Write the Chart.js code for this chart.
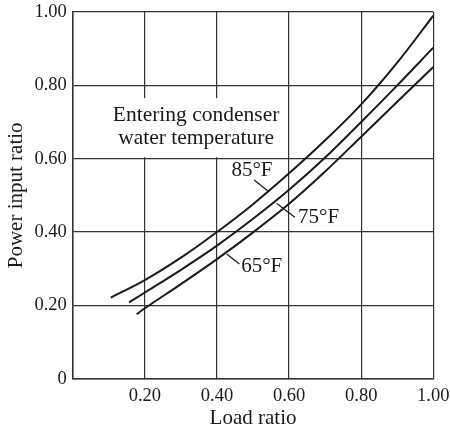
<!DOCTYPE html>
<html>
<head>
<meta charset="utf-8">
<script src="https://cdn.jsdelivr.net/npm/chart.js@4"></script>
<style>
  html, body { margin: 0; padding: 0; background: #fff; }
  #wrap { width: 450px; height: 428px; position: relative; }
</style>
</head>
<body>
<div id="wrap"><canvas id="c"></canvas></div>
<script>
// Werte
var load85 = [0.105, 0.2, 0.3, 0.4, 0.5, 0.6, 0.7, 0.8, 0.9, 1.0];
var power85 = [0.221, 0.269, 0.33, 0.40, 0.476, 0.56, 0.65, 0.748, 0.862, 0.99];
var load75 = [0.156, 0.2, 0.3, 0.4, 0.5, 0.6, 0.7, 0.8, 0.9, 1.0];
var power75 = [0.208, 0.235, 0.297, 0.363, 0.436, 0.515, 0.603, 0.70, 0.80, 0.903];
var load65 = [0.177, 0.2, 0.3, 0.4, 0.5, 0.6, 0.7, 0.8, 0.9, 1.0];
var power65 = [0.176, 0.192, 0.258, 0.326, 0.399, 0.477, 0.565, 0.66, 0.755, 0.85];
var seriesLabels = ['85°F', '75°F', '65°F'];
var noteLines = ['Entering condenser', 'water temperature'];

var FONT = "'Liberation Serif', 'Times New Roman', serif";
var INK = '#1a1a1a';
var GRID = '#333';

function pts(xs, ys) { return xs.map(function (x, i) { return { x: x, y: ys[i] }; }); }
function line(label, xs, ys) {
  return {
    label: label, data: pts(xs, ys), borderColor: INK, borderWidth: 2,
    pointRadius: 0, cubicInterpolationMode: 'monotone', fill: false
  };
}

// Beschriftungen (Datenkoordinaten): Text + Hinweisstrich
var labelPos = [
  { x: 0.497, y: 0.569, lx: [0.503, 0.544], ly: [0.542, 0.510] },
  { x: 0.682, y: 0.441, lx: [0.566, 0.616], ly: [0.478, 0.440] },
  { x: 0.524, y: 0.305, lx: [0.427, 0.462], ly: [0.340, 0.313] }
];

var notes = {
  id: 'notes',
  beforeDatasetsDraw: function (chart) {
    var xs = chart.scales.x, ys = chart.scales.y, ctx = chart.ctx;
    // weißer Kasten hinter dem Text, verdeckt die Gitterlinien
    var x0 = xs.getPixelForValue(0.08), x1 = xs.getPixelForValue(0.58);
    var y0 = ys.getPixelForValue(0.765), y1 = ys.getPixelForValue(0.604);
    ctx.save();
    ctx.fillStyle = '#fff';
    ctx.fillRect(x0, y0, x1 - x0, y1 - y0);
    ctx.fillStyle = INK;
    ctx.font = '21.5px ' + FONT;
    ctx.textAlign = 'center';
    ctx.textBaseline = 'middle';
    var cx = xs.getPixelForValue(0.342);
    ctx.fillText(noteLines[0], cx, ys.getPixelForValue(0.719));
    ctx.fillText(noteLines[1], cx, ys.getPixelForValue(0.656));
    ctx.restore();
  },
  afterDatasetsDraw: function (chart) {
    var xs = chart.scales.x, ys = chart.scales.y, ctx = chart.ctx;
    ctx.save();
    ctx.fillStyle = INK;
    ctx.strokeStyle = INK;
    ctx.lineWidth = 1.3;
    ctx.font = '21px ' + FONT;
    ctx.textAlign = 'center';
    ctx.textBaseline = 'middle';
    labelPos.forEach(function (p, i) {
      ctx.fillText(seriesLabels[i], xs.getPixelForValue(p.x), ys.getPixelForValue(p.y));
      ctx.beginPath();
      ctx.moveTo(xs.getPixelForValue(p.lx[0]), ys.getPixelForValue(p.ly[0]));
      ctx.lineTo(xs.getPixelForValue(p.lx[1]), ys.getPixelForValue(p.ly[1]));
      ctx.stroke();
    });
    ctx.restore();
  }
};

new Chart(document.getElementById('c').getContext('2d'), {
  type: 'line',
  data: {
    datasets: [
      line(seriesLabels[0], load85, power85),
      line(seriesLabels[1], load75, power75),
      line(seriesLabels[2], load65, power65)
    ]
  },
  options: {
    responsive: true, maintainAspectRatio: false, animation: false,
    layout: { padding: { top: 12, right: 16.7, bottom: 0, left: 0 } },
    plugins: { legend: { display: false }, tooltip: { enabled: false } },
    scales: {
      x: {
        type: 'linear', min: 0, max: 1,
        ticks: {
          stepSize: 0.2, color: INK, padding: 6, maxRotation: 0,
          font: { family: FONT, size: 18.5 },
          callback: function (v) { return v === 0 ? '' : v.toFixed(2); }
        },
        grid: { color: GRID, lineWidth: 1.2, drawTicks: false },
        border: { color: GRID, width: 1.5 },
        title: { display: true, text: 'Load ratio', color: INK, font: { family: FONT, size: 21, lineHeight: 0.9 }, padding: { top: 0, bottom: 0 } },
        afterFit: function (s) { s.height = 49.3; s.paddingLeft = 0; s.paddingRight = 0; }
      },
      y: {
        min: 0, max: 1,
        ticks: {
          stepSize: 0.2, color: INK, padding: 6,
          font: { family: FONT, size: 18.5 },
          callback: function (v) { return v === 0 ? '0' : v.toFixed(2); }
        },
        grid: { color: GRID, lineWidth: 1.2, drawTicks: false },
        border: { color: GRID, width: 1.5 },
        title: { display: true, text: 'Power input ratio', color: INK, font: { family: FONT, size: 21 }, padding: { top: 4, bottom: 0 } },
        afterFit: function (s) { s.width = 72.8; s.paddingTop = 0; s.paddingBottom = 0; }
      }
    }
  },
  plugins: [notes]
});
</script>
</body>
</html>
